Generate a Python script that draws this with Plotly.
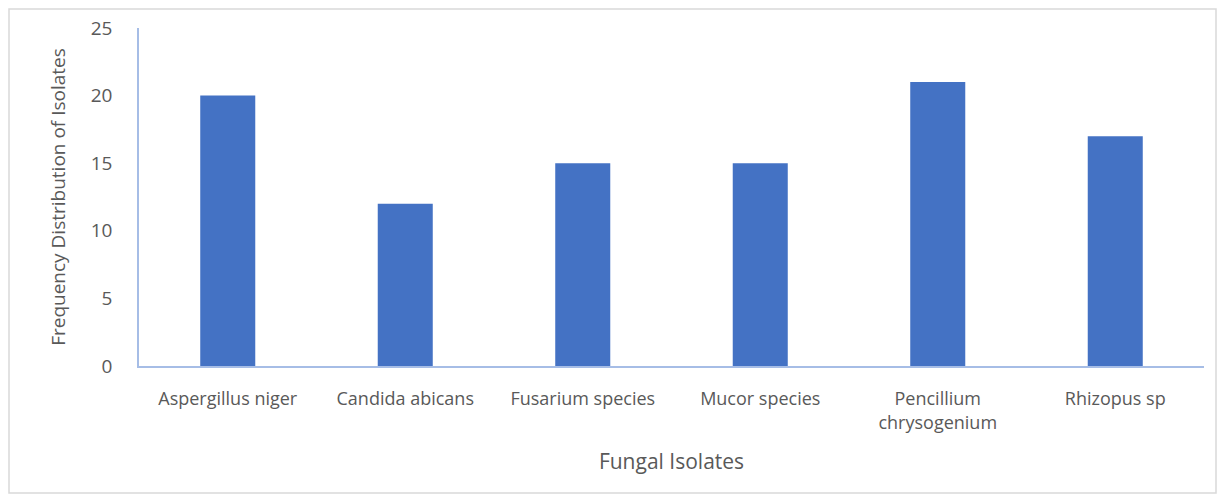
import plotly.graph_objects as go

categories = ["Aspergillus niger", "Candida abicans", "Fusarium species",
              "Mucor species", "Pencillium<br>chrysogenium", "Rhizopus sp"]
values = [20, 12, 15, 15, 21, 17]
y_ticks = [0, 5, 10, 15, 20, 25]

# page body has an 8px margin; compensate so the plot lands where the reference has it
OFF = 8
W, H = 1225 - 2 * OFF, 502 - 2 * OFF
PL, PR, PT, PB = 139, 1204, 28, 366   # plot area in page pixels
L, T = PL - OFF, PT - OFF
R = OFF + W - PR
B = OFF + H - PB
pw, ph = PR - PL, PB - PT

fig = go.Figure(go.Bar(x=categories, y=values, marker=dict(color="#4472C4", line=dict(width=0))))

font = "'Open Sans', sans-serif"
grey = "#595959"
fig.update_layout(
    width=W, height=H,
    margin=dict(l=L, r=R, t=T, b=B, autoexpand=False),
    plot_bgcolor="white", paper_bgcolor="white",
    bargap=0.69,
    showlegend=False,
    font=dict(family=font, color=grey, size=18),
    xaxis=dict(
        automargin=False,
        showline=True, linecolor="#a6bde6", linewidth=1.5,
        showgrid=False, ticks="", tickangle=0, ticklabelstandoff=16,
        tickfont=dict(size=18, color=grey),
        title=dict(text="Fungal Isolates", font=dict(size=21, color=grey), standoff=22),
    ),
    yaxis=dict(
        automargin=False,
        range=[0, 25], tickvals=y_ticks, showline=True, linecolor="#a6bde6", linewidth=1.5,
        showgrid=False, zeroline=False, ticks="", ticklabelstandoff=21,
        tickfont=dict(size=19, color=grey),
        title=dict(text="Frequency Distribution of Isolates", font=dict(size=19, color=grey), standoff=20),
    ),
    shapes=[dict(
        type="rect", xref="paper", yref="paper",
        x0=(9 - PL) / pw, x1=(1216 - PL) / pw,
        y0=(PB - 493) / ph, y1=(PB - 9) / ph,
        line=dict(color="#d9d9d9", width=1.5), fillcolor="rgba(0,0,0,0)", layer="below",
    )],
)

fig.write_html("out.html")
